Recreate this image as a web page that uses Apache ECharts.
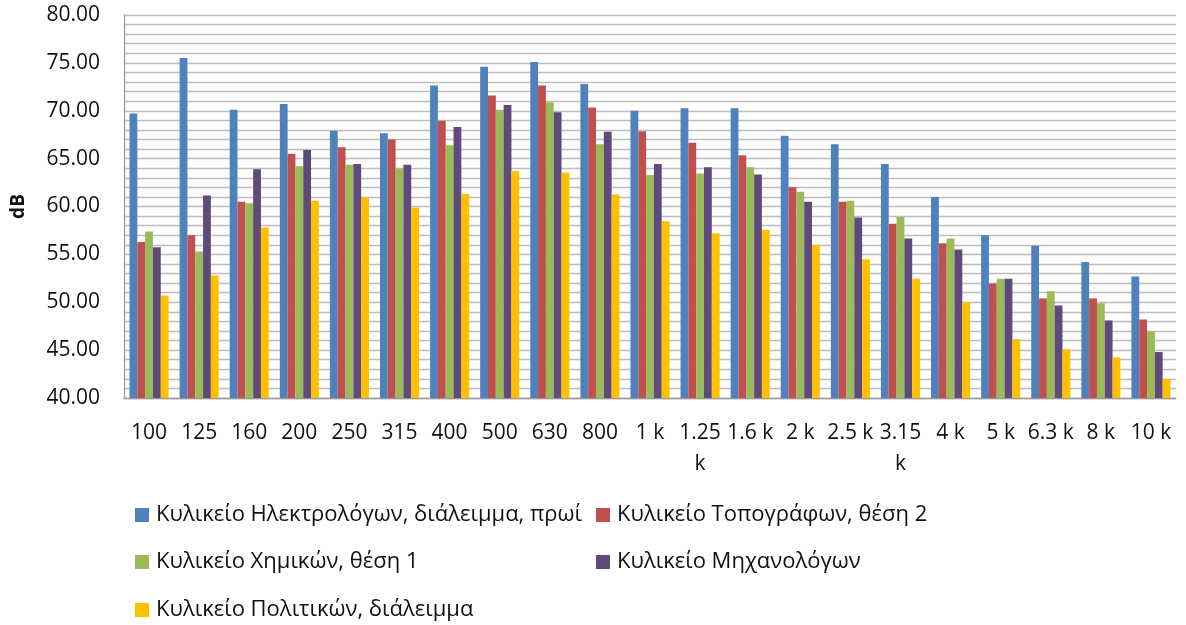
<!DOCTYPE html>
<html>
<head>
<meta charset="utf-8">
<script src="https://cdn.jsdelivr.net/npm/echarts@6/dist/echarts.min.js"></script>
<style>
html,body{margin:0;padding:0;background:#fff;}
#c{width:1186px;height:625px;}
</style>
</head>
<body>
<div id="c"></div>
<script>
const categories = ['100','125','160','200','250','315','400','500','630','800','1 k','1.25\nk','1.6 k','2 k','2.5 k','3.15\nk','4 k','5 k','6.3 k','8 k','10 k'];
const seriesNames = [
  'Κυλικείο Ηλεκτρολόγων, διάλειμμα, πρωί',
  'Κυλικείο Τοπογράφων, θέση 2',
  'Κυλικείο Χημικών, θέση 1',
  'Κυλικείο Μηχανολόγων',
  'Κυλικείο Πολιτικών, διάλειμμα'
];
const electrical = [69.7,75.5,70.1,70.7,67.9,67.65,72.65,74.6,75.1,72.8,70.0,70.25,70.25,67.4,66.5,64.45,61.0,57.0,55.9,54.2,52.7];
const topography = [56.3,57.0,60.5,65.5,66.2,67.0,68.95,71.6,72.65,70.35,67.85,66.65,65.35,62.0,60.5,58.2,56.15,51.95,50.4,50.4,48.2];
const chemistry  = [57.4,55.3,60.35,64.2,64.35,63.95,66.4,70.1,70.9,66.5,63.3,63.45,64.1,61.55,60.6,58.9,56.65,52.45,51.15,49.9,47.0];
const mechanical = [55.75,61.15,63.9,65.9,64.45,64.35,68.3,70.6,69.85,67.8,64.45,64.1,63.35,60.5,58.85,56.65,55.5,52.45,49.65,48.1,44.8];
const civil      = [50.7,52.8,57.8,60.6,60.95,59.9,61.3,63.7,63.55,61.25,58.45,57.2,57.55,56.0,54.5,52.45,50.0,46.15,45.1,44.25,42.0];
const yTicks = [40,45,50,55,60,65,70,75,80];

const colors = ['#4F81BD','#C0504D','#9BBB59','#604A7B','#FFC000'];
const allData = [electrical, topography, chemistry, mechanical, civil];
const FONT = 'Open Sans';
const textColor = '#111';

const legendPos = [
  {left:135, top:504},
  {left:596, top:504},
  {left:135, top:551},
  {left:596, top:551},
  {left:135, top:599}
];

const chart = echarts.init(document.getElementById('c'), null, {renderer:'canvas'});
chart.setOption({
  animation:false,
  backgroundColor:'#fff',
  color: colors,
  textStyle:{fontFamily:FONT},
  grid:{left:124, right:10, top:15, bottom:227, containLabel:false},
  legend: seriesNames.map((n,i)=>({
    data:[n], left:legendPos[i].left, top:legendPos[i].top,
    orient:'horizontal', icon:'rect', itemWidth:14, itemHeight:14, itemGap:0,
    padding:0,
    textStyle:{fontFamily:FONT, fontSize:22, color:textColor, padding:[0,0,0,2]},
    selectedMode:false
  })),
  xAxis:{
    type:'category', data:categories,
    axisLine:{show:true, lineStyle:{color:'#9a9a9a', width:1.3}},
    axisTick:{show:false},
    axisLabel:{interval:0, margin:20, fontFamily:FONT, fontSize:21, color:textColor, lineHeight:31}
  },
  yAxis:{
    type:'value', min:yTicks[0], max:yTicks[yTicks.length-1], interval:5,
    name:'dB', nameLocation:'middle', nameGap:96,
    nameTextStyle:{fontFamily:FONT, fontSize:19, fontWeight:'bold', color:textColor},
    axisLine:{show:true, lineStyle:{color:'#9a9a9a', width:1.3}},
    axisTick:{show:false},
    axisLabel:{margin:24, fontFamily:FONT, fontSize:21, color:textColor, formatter:v=>v.toFixed(2)},
    splitLine:{show:true, lineStyle:{color:'#bdbdbd', width:1.4}},
    minorTick:{show:false, splitNumber:5},
    minorSplitLine:{show:true, lineStyle:{color:'#bdbdbd', width:1.4}}
  },
  series: seriesNames.map((n,i)=>({
    name:n, type:'bar', data:allData[i],
    barGap:'0%', barCategoryGap:'22%',
    itemStyle:{color:colors[i]}
  }))
});
</script>
</body>
</html>
